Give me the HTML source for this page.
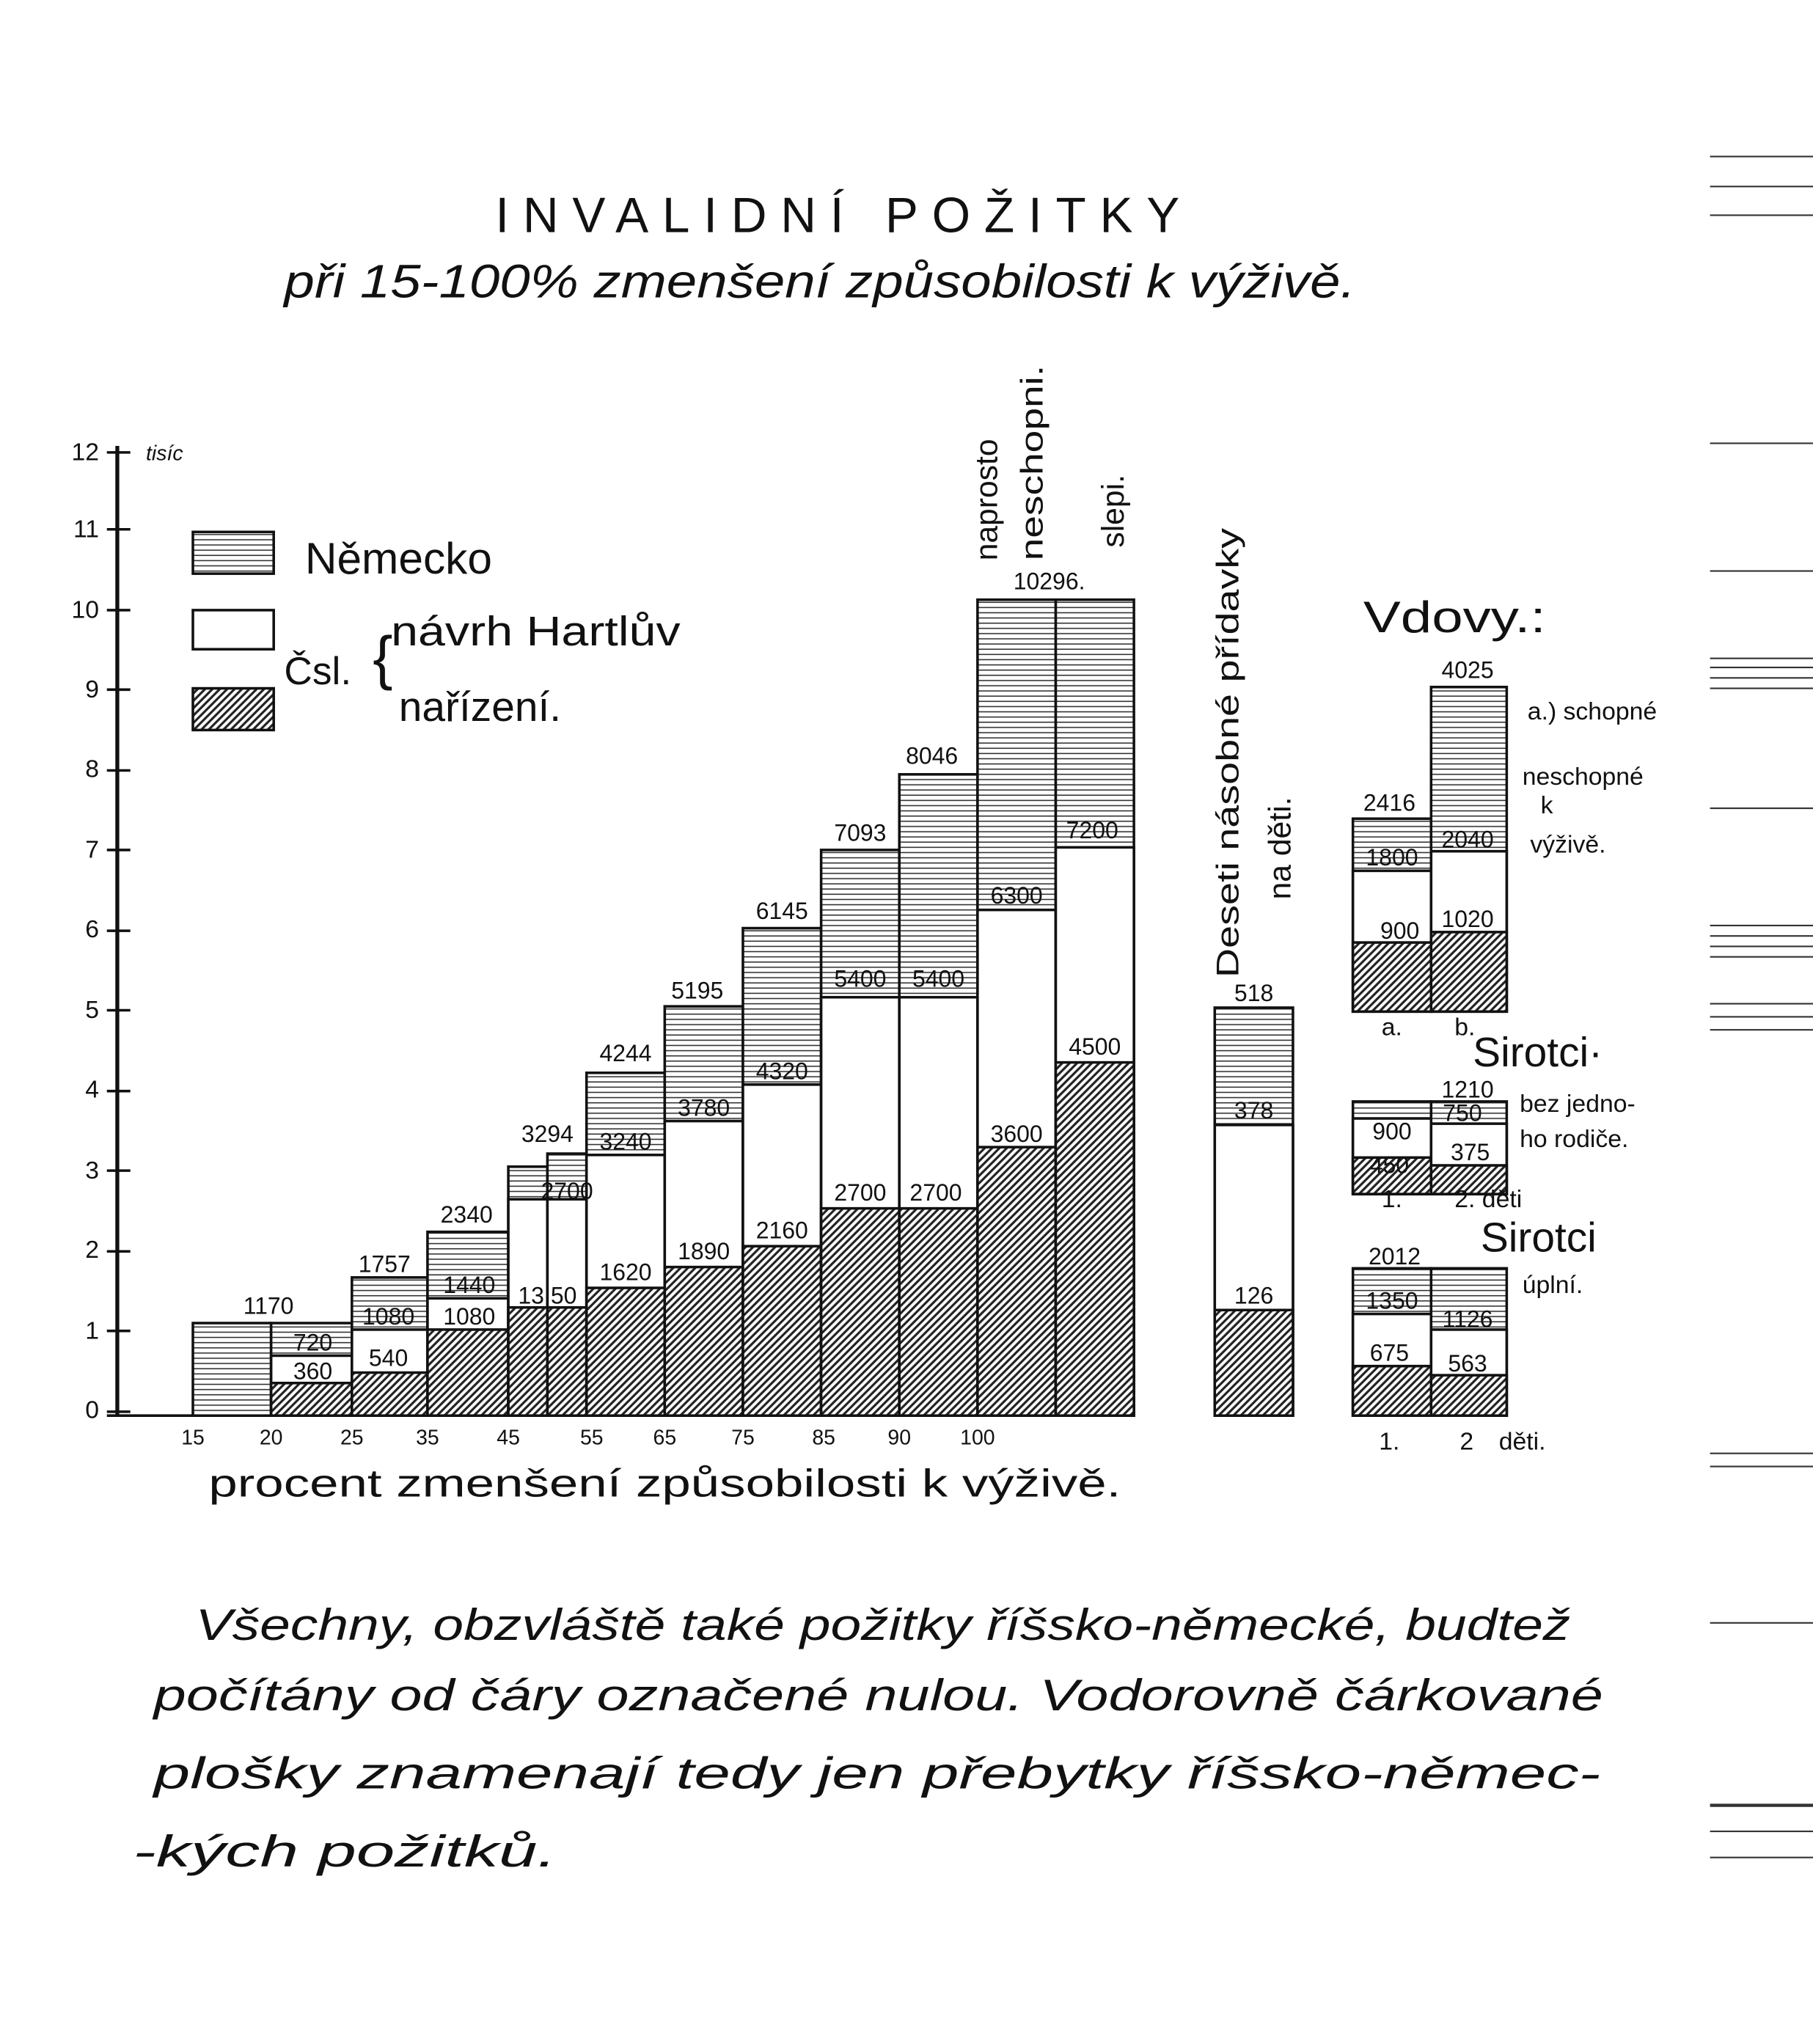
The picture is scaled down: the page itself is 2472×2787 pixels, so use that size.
<!DOCTYPE html>
<html><head><meta charset="utf-8"><style>
html,body{margin:0;padding:0;background:#fff}
svg{display:block}
text{font-family:"Liberation Sans",sans-serif;fill:#111}
</style></head><body>
<svg width="2472" height="2787" viewBox="0 0 1391 1568" xmlns="http://www.w3.org/2000/svg">
<defs>
<pattern id="hz" width="6" height="4" patternUnits="userSpaceOnUse"><rect width="6" height="4" fill="#fff"/><line x1="0" y1="2" x2="6" y2="2" stroke="#333" stroke-width="0.9"/></pattern>
<pattern id="dg" width="4" height="4" patternUnits="userSpaceOnUse" patternTransform="rotate(-45)"><rect width="4" height="4" fill="#fff"/><line x1="0" y1="1" x2="4" y2="1" stroke="#222" stroke-width="1.8"/></pattern>
</defs>
<rect width="1391" height="1568" fill="#fff"/>
<g stroke="#333" stroke-width="1.2">
<line x1="1312" y1="120" x2="1391" y2="120"/><line x1="1312" y1="143" x2="1391" y2="143"/><line x1="1312" y1="165" x2="1391" y2="165"/>
<line x1="1312" y1="340" x2="1391" y2="340"/><line x1="1312" y1="438" x2="1391" y2="438"/>
<line x1="1312" y1="505" x2="1391" y2="505"/><line x1="1312" y1="512" x2="1391" y2="512"/><line x1="1312" y1="520" x2="1391" y2="520"/><line x1="1312" y1="528" x2="1391" y2="528"/>
<line x1="1312" y1="620" x2="1391" y2="620"/>
<line x1="1312" y1="710" x2="1391" y2="710"/><line x1="1312" y1="718" x2="1391" y2="718"/><line x1="1312" y1="726" x2="1391" y2="726"/><line x1="1312" y1="734" x2="1391" y2="734"/>
<line x1="1312" y1="770" x2="1391" y2="770"/><line x1="1312" y1="780" x2="1391" y2="780"/><line x1="1312" y1="790" x2="1391" y2="790"/>
<line x1="1312" y1="1115" x2="1391" y2="1115"/><line x1="1312" y1="1125" x2="1391" y2="1125"/>
<line x1="1312" y1="1245" x2="1391" y2="1245"/>
<line x1="1312" y1="1385" x2="1391" y2="1385" stroke-width="2.5"/><line x1="1312" y1="1405" x2="1391" y2="1405"/><line x1="1312" y1="1425" x2="1391" y2="1425"/>
</g>
<text x="380" y="178" font-size="38" textLength="525" lengthAdjust="spacing">INVALIDNÍ POŽITKY</text>
<text x="218" y="228" font-size="36" font-style="italic" textLength="822" lengthAdjust="spacingAndGlyphs">při 15-100% zmenšení způsobilosti k výživě.</text>
<line x1="90" y1="342" x2="90" y2="1086" stroke="#111" stroke-width="3"/>
<line x1="82" y1="1086" x2="870" y2="1086" stroke="#111" stroke-width="2"/>
<g stroke="#111" stroke-width="2">
<line x1="82" y1="1083" x2="100" y2="1083"/><line x1="82" y1="1021" x2="100" y2="1021"/><line x1="82" y1="960" x2="100" y2="960"/><line x1="82" y1="898" x2="100" y2="898"/><line x1="82" y1="837" x2="100" y2="837"/><line x1="82" y1="775" x2="100" y2="775"/><line x1="82" y1="714" x2="100" y2="714"/><line x1="82" y1="652" x2="100" y2="652"/><line x1="82" y1="591" x2="100" y2="591"/><line x1="82" y1="529" x2="100" y2="529"/><line x1="82" y1="468" x2="100" y2="468"/><line x1="82" y1="406" x2="100" y2="406"/><line x1="82" y1="347" x2="100" y2="347"/>
</g>
<g font-size="19" text-anchor="end">
<text x="76" y="1088">0</text><text x="76" y="1027">1</text><text x="76" y="965">2</text><text x="76" y="904">3</text><text x="76" y="842">4</text><text x="76" y="781">5</text><text x="76" y="719">6</text><text x="76" y="658">7</text><text x="76" y="596">8</text><text x="76" y="535">9</text><text x="76" y="474">10</text><text x="76" y="412">11</text><text x="76" y="353">12</text>
</g>
<text x="112" y="353" font-size="16" font-style="italic">tisíc</text>
<rect x="148" y="408" width="62" height="32" fill="url(#hz)" stroke="#111" stroke-width="2"/>
<rect x="148" y="468" width="62" height="30" fill="#fff" stroke="#111" stroke-width="2"/>
<rect x="148" y="528" width="62" height="32" fill="url(#dg)" stroke="#111" stroke-width="2"/>
<text x="234" y="440" font-size="34">Německo</text>
<text x="218" y="525" font-size="30">Čsl.</text>
<text x="286" y="520" font-size="46">{</text>
<text x="300" y="495" font-size="32" textLength="222" lengthAdjust="spacingAndGlyphs">návrh Hartlův</text>
<text x="306" y="553" font-size="32">nařízení.</text>
<g stroke="#111" stroke-width="2">
<rect x="148" y="1015" width="60" height="71" fill="url(#hz)"/>
<rect x="208" y="1015" width="62" height="71" fill="url(#hz)"/><rect x="208" y="1040" width="62" height="46" fill="#fff"/><rect x="208" y="1061" width="62" height="25" fill="url(#dg)"/>
<rect x="270" y="980" width="58" height="106" fill="url(#hz)"/><rect x="270" y="1020" width="58" height="66" fill="#fff"/><rect x="270" y="1053" width="58" height="33" fill="url(#dg)"/>
<rect x="328" y="945" width="62" height="141" fill="url(#hz)"/><rect x="328" y="996" width="62" height="90" fill="#fff"/><rect x="328" y="1020" width="62" height="66" fill="url(#dg)"/>
<rect x="390" y="895" width="30" height="191" fill="url(#hz)"/><rect x="390" y="920" width="30" height="166" fill="#fff"/><rect x="390" y="1003" width="30" height="83" fill="url(#dg)"/>
<rect x="420" y="885" width="30" height="201" fill="url(#hz)"/><rect x="420" y="920" width="30" height="166" fill="#fff"/><rect x="420" y="1003" width="30" height="83" fill="url(#dg)"/>
<rect x="450" y="823" width="60" height="263" fill="url(#hz)"/><rect x="450" y="886" width="60" height="200" fill="#fff"/><rect x="450" y="988" width="60" height="98" fill="url(#dg)"/>
<rect x="510" y="772" width="60" height="314" fill="url(#hz)"/><rect x="510" y="860" width="60" height="226" fill="#fff"/><rect x="510" y="972" width="60" height="114" fill="url(#dg)"/>
<rect x="570" y="712" width="60" height="374" fill="url(#hz)"/><rect x="570" y="832" width="60" height="254" fill="#fff"/><rect x="570" y="956" width="60" height="130" fill="url(#dg)"/>
<rect x="630" y="652" width="60" height="434" fill="url(#hz)"/><rect x="630" y="765" width="60" height="321" fill="#fff"/><rect x="630" y="927" width="60" height="159" fill="url(#dg)"/>
<rect x="690" y="594" width="60" height="492" fill="url(#hz)"/><rect x="690" y="765" width="60" height="321" fill="#fff"/><rect x="690" y="927" width="60" height="159" fill="url(#dg)"/>
<rect x="750" y="460" width="60" height="626" fill="url(#hz)"/><rect x="750" y="698" width="60" height="388" fill="#fff"/><rect x="750" y="880" width="60" height="206" fill="url(#dg)"/>
<rect x="810" y="460" width="60" height="626" fill="url(#hz)"/><rect x="810" y="650" width="60" height="436" fill="#fff"/><rect x="810" y="815" width="60" height="271" fill="url(#dg)"/>
<rect x="932" y="773" width="60" height="313" fill="url(#hz)"/><rect x="932" y="863" width="60" height="223" fill="#fff"/><rect x="932" y="1005" width="60" height="81" fill="url(#dg)"/>
<rect x="1038" y="628" width="60" height="148" fill="url(#hz)"/><rect x="1038" y="668" width="60" height="108" fill="#fff"/><rect x="1038" y="723" width="60" height="53" fill="url(#dg)"/>
<rect x="1098" y="527" width="58" height="249" fill="url(#hz)"/><rect x="1098" y="653" width="58" height="123" fill="#fff"/><rect x="1098" y="715" width="58" height="61" fill="url(#dg)"/>
<rect x="1038" y="845" width="60" height="71" fill="url(#hz)"/><rect x="1038" y="858" width="60" height="58" fill="#fff"/><rect x="1038" y="888" width="60" height="28" fill="url(#dg)"/>
<rect x="1098" y="845" width="58" height="71" fill="url(#hz)"/><rect x="1098" y="862" width="58" height="54" fill="#fff"/><rect x="1098" y="894" width="58" height="22" fill="url(#dg)"/>
<rect x="1038" y="973" width="60" height="113" fill="url(#hz)"/><rect x="1038" y="1008" width="60" height="78" fill="#fff"/><rect x="1038" y="1048" width="60" height="38" fill="url(#dg)"/>
<rect x="1098" y="973" width="58" height="113" fill="url(#hz)"/><rect x="1098" y="1020" width="58" height="66" fill="#fff"/><rect x="1098" y="1055" width="58" height="31" fill="url(#dg)"/>
</g>
<g font-size="18" text-anchor="middle">
<text x="206" y="1008">1170</text><text x="240" y="1036">720</text><text x="240" y="1058">360</text>
<text x="295" y="976">1757</text><text x="298" y="1016">1080</text><text x="298" y="1048">540</text>
<text x="358" y="938">2340</text><text x="360" y="992">1440</text><text x="360" y="1016">1080</text>
<text x="420" y="876">3294</text><text x="435" y="920">2700</text><text x="420" y="1000">13 50</text>
<text x="480" y="814">4244</text><text x="480" y="882">3240</text><text x="480" y="982">1620</text>
<text x="535" y="766">5195</text><text x="540" y="856">3780</text><text x="540" y="966">1890</text>
<text x="600" y="705">6145</text><text x="600" y="828">4320</text><text x="600" y="950">2160</text>
<text x="660" y="645">7093</text><text x="660" y="757">5400</text><text x="660" y="921">2700</text>
<text x="715" y="586">8046</text><text x="720" y="757">5400</text><text x="718" y="921">2700</text>
<text x="805" y="452">10296.</text><text x="780" y="693">6300</text><text x="780" y="876">3600</text>
<text x="838" y="643">7200</text><text x="840" y="809">4500</text>
<text x="962" y="768">518</text><text x="962" y="858">378</text><text x="962" y="1000">126</text>
<text x="1066" y="622">2416</text><text x="1068" y="664">1800</text><text x="1074" y="720">900</text>
<text x="1126" y="520">4025</text><text x="1126" y="650">2040</text><text x="1126" y="711">1020</text>
<text x="1126" y="842">1210</text><text x="1068" y="874">900</text><text x="1066" y="900">450</text><text x="1122" y="860">750</text><text x="1128" y="890">375</text>
<text x="1070" y="970">2012</text><text x="1068" y="1004">1350</text><text x="1066" y="1044">675</text><text x="1126" y="1018">1126</text><text x="1126" y="1052">563</text>
</g>
<g font-size="16" text-anchor="middle">
<text x="148" y="1108">15</text><text x="208" y="1108">20</text><text x="270" y="1108">25</text><text x="328" y="1108">35</text><text x="390" y="1108">45</text><text x="454" y="1108">55</text><text x="510" y="1108">65</text><text x="570" y="1108">75</text><text x="632" y="1108">85</text><text x="690" y="1108">90</text><text x="750" y="1108">100</text>
</g>
<text x="160" y="1148" font-size="30" textLength="700" lengthAdjust="spacingAndGlyphs">procent zmenšení způsobilosti k výživě.</text>
<g font-size="24">
<text transform="translate(765,430) rotate(-90)">naprosto</text>
<text transform="translate(800,430) rotate(-90)" textLength="150" lengthAdjust="spacingAndGlyphs">neschopni.</text>
<text transform="translate(862,420) rotate(-90)">slepi.</text>
<text transform="translate(950,750) rotate(-90)" textLength="345" lengthAdjust="spacingAndGlyphs">Deseti násobné přídavky</text>
<text transform="translate(990,690) rotate(-90)">na děti.</text>
</g>
<text x="1046" y="485" font-size="34" textLength="140" lengthAdjust="spacingAndGlyphs">Vdovy.:</text>
<g font-size="19">
<text x="1172" y="552">a.) schopné</text><text x="1168" y="602">neschopné</text><text x="1182" y="624">k</text><text x="1174" y="654">výživě.</text>
<text x="1166" y="853">bez jedno-</text><text x="1166" y="880">ho rodiče.</text>
<text x="1168" y="992">úplní.</text>
<text x="1060" y="794">a.</text><text x="1116" y="794">b.</text>
<text x="1060" y="926">1.</text><text x="1116" y="926">2. děti</text>
<text x="1058" y="1112">1.</text><text x="1120" y="1112">2</text><text x="1150" y="1112">děti.</text>
</g>
<text x="1130" y="818" font-size="32">Sirotci·</text>
<text x="1136" y="960" font-size="32">Sirotci</text>
<g font-size="34" font-style="italic">
<text x="150" y="1258" textLength="1055" lengthAdjust="spacingAndGlyphs">Všechny, obzvláště také požitky říšsko-německé, budtež</text>
<text x="118" y="1312" textLength="1112" lengthAdjust="spacingAndGlyphs">počítány od čáry označené nulou. Vodorovně čárkované</text>
<text x="118" y="1372" textLength="1110" lengthAdjust="spacingAndGlyphs">plošky znamenají tedy jen přebytky říšsko-němec-</text>
<text x="102" y="1432" textLength="325" lengthAdjust="spacingAndGlyphs">-kých požitků.</text>
</g>
</svg>
</body></html>
